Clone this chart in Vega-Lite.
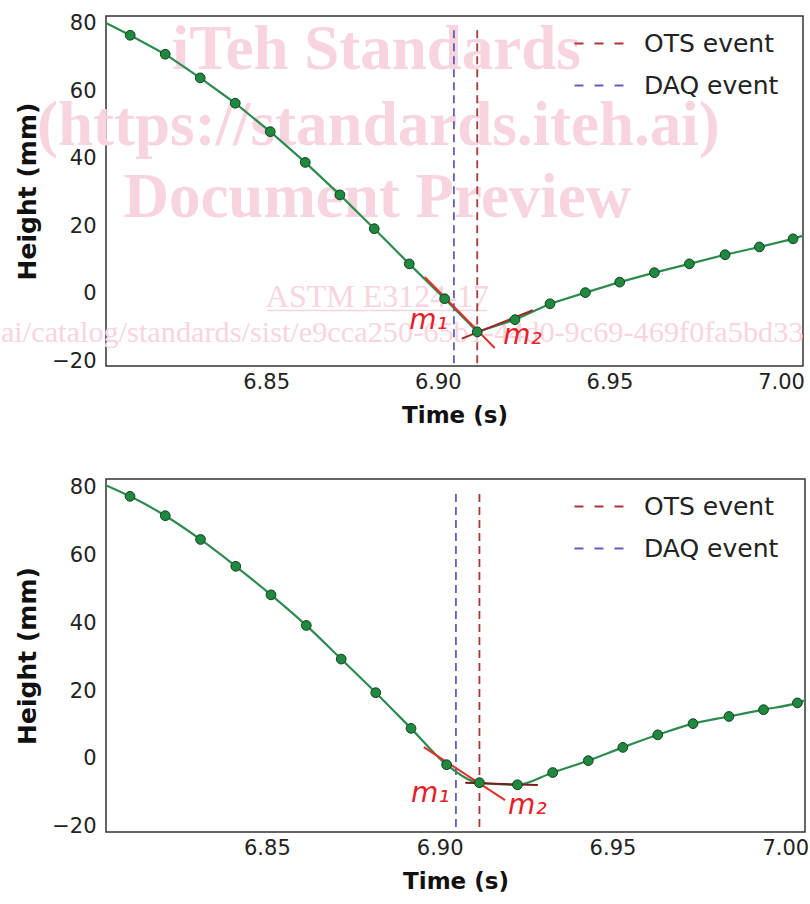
{
  "$schema": "https://vega.github.io/schema/vega-lite/v6.json",
  "padding": {"left": 0, "top": 11, "right": 0, "bottom": 0},
  "spacing": 47,
  "background": "white",
  "config": {
    "view": {"stroke": "#333333", "strokeWidth": 1.5},
    "axis": {"ticks": false, "domain": false, "grid": false, "labelFont": "DejaVu Sans", "labelFontSize": 21, "labelColor": "#222222", "titleFont": "DejaVu Sans", "titleFontWeight": "bold", "titleColor": "#111111"},
    "legend": {"orient": "none", "legendX": 467, "padding": 0, "title": null, "symbolType": "stroke", "symbolSize": 2500, "symbolStrokeWidth": 2.2, "symbolDash": [9, 11], "labelFont": "DejaVu Sans", "labelFontSize": 25, "labelColor": "#222222", "labelOffset": 18}
  },
  "resolve": {"scale": {"color": "independent"}, "legend": {"color": "independent"}},
  "datasets": {
    "topCurve": [
      {"t": 6.80335, "h": 80.1, "s": 0},
      {"t": 6.8104, "h": 76.5, "s": 1},
      {"t": 6.8206, "h": 70.9, "s": 1},
      {"t": 6.8308, "h": 63.9, "s": 1},
      {"t": 6.8410, "h": 56.4, "s": 1},
      {"t": 6.8512, "h": 48.0, "s": 1},
      {"t": 6.8614, "h": 38.9, "s": 1},
      {"t": 6.8715, "h": 29.3, "s": 1},
      {"t": 6.8815, "h": 19.3, "s": 1},
      {"t": 6.8917, "h": 8.9, "s": 1},
      {"t": 6.9020, "h": -1.4, "s": 1},
      {"t": 6.9115, "h": -11.2, "s": 1},
      {"t": 6.9225, "h": -7.6, "s": 1},
      {"t": 6.9327, "h": -2.9, "s": 1},
      {"t": 6.9430, "h": 0.4, "s": 1},
      {"t": 6.9530, "h": 3.5, "s": 1},
      {"t": 6.9631, "h": 6.3, "s": 1},
      {"t": 6.9733, "h": 8.9, "s": 1},
      {"t": 6.9837, "h": 11.6, "s": 1},
      {"t": 6.9937, "h": 13.9, "s": 1},
      {"t": 7.0035, "h": 16.3, "s": 1},
      {"t": 7.0064, "h": 17.3, "s": 0}
    ],
    "bottomCurve": [
      {"t": 6.80335, "h": 80.6, "s": 0},
      {"t": 6.8104, "h": 77.3, "s": 1},
      {"t": 6.8206, "h": 71.6, "s": 1},
      {"t": 6.8308, "h": 64.6, "s": 1},
      {"t": 6.8410, "h": 56.7, "s": 1},
      {"t": 6.8512, "h": 48.3, "s": 1},
      {"t": 6.8614, "h": 39.3, "s": 1},
      {"t": 6.8715, "h": 29.4, "s": 1},
      {"t": 6.8815, "h": 19.5, "s": 1},
      {"t": 6.8917, "h": 9.0, "s": 1},
      {"t": 6.9020, "h": -1.7, "s": 1},
      {"t": 6.9115, "h": -7.0, "s": 1},
      {"t": 6.9225, "h": -7.6, "s": 1},
      {"t": 6.9327, "h": -4.0, "s": 1},
      {"t": 6.9430, "h": -0.5, "s": 1},
      {"t": 6.9530, "h": 3.4, "s": 1},
      {"t": 6.9631, "h": 7.1, "s": 1},
      {"t": 6.9733, "h": 10.4, "s": 1},
      {"t": 6.9837, "h": 12.5, "s": 1},
      {"t": 6.9937, "h": 14.5, "s": 1},
      {"t": 7.0035, "h": 16.5, "s": 1},
      {"t": 7.0064, "h": 17.5, "s": 0}
    ],
    "events": [
      {"event": "OTS event", "t": 6.9115},
      {"event": "DAQ event", "t": 6.9047}
    ],
    "topTangents": [
      {"seg": "m1", "t": 6.8962, "h": 5.0},
      {"seg": "m1", "t": 6.9166, "h": -16.0},
      {"seg": "m2", "t": 6.9070, "h": -13.2},
      {"seg": "m2", "t": 6.9277, "h": -4.8}
    ],
    "bottomTangents": [
      {"seg": "m1", "t": 6.8954, "h": 3.5},
      {"seg": "m1", "t": 6.9189, "h": -12.1},
      {"seg": "m2", "t": 6.9074, "h": -7.0},
      {"seg": "m2", "t": 6.9284, "h": -7.7}
    ],
    "topLabels": [
      {"label": "m₁", "t": 6.8917, "h": -10.3},
      {"label": "m₂", "t": 6.9191, "h": -14.7}
    ],
    "bottomLabels": [
      {"label": "m₁", "t": 6.8917, "h": -12.6},
      {"label": "m₂", "t": 6.9198, "h": -16.2}
    ],
    "watermark": [
      {"line": 1, "label": "iTeh Standards", "t": 6.8821, "h": 66.4},
      {"line": 2, "label": "(https://standards.iteh.ai)", "t": 6.8827, "h": 44.2},
      {"line": 3, "label": "Document Preview", "t": 6.8824, "h": 22.7},
      {"line": 4, "label": "ASTM E3124-17", "t": 6.8824, "h": -3.8},
      {"line": 5, "label": "ai/catalog/standards/sist/e9cca250-65b1-44d0-9c69-469f0fa5bd33", "t": 6.77274, "h": -14.2}
    ],
    "underline": [
      {"t": 6.8503, "t2": 6.9144, "h": -4.9}
    ]
  },
  "vconcat": [
    {
      "width": 697,
      "height": 350,
      "encoding": {
        "x": {"field": "t", "type": "quantitative", "scale": {"domain": [6.80335, 7.0064], "nice": false, "zero": false}, "axis": {"title": "Time (s)", "values": [6.85, 6.9, 6.95, 7.0], "format": ".2f", "labelPadding": 5, "titlePadding": 12, "titleFontSize": 23}}
      },
      "layer": [
        {
          "data": {"name": "watermark"},
          "transform": [{"filter": "datum.line <= 3"}],
          "mark": {"type": "text", "font": "Liberation Serif", "fontWeight": "bold", "fontSize": 63, "color": "#f8d5de", "align": "center", "baseline": "alphabetic"},
          "encoding": {
            "y": {"field": "h", "type": "quantitative", "scale": {"domain": [-21.3, 82.2], "nice": false, "zero": false}, "axis": {"title": "Height (mm)", "values": [-20, 0, 20, 40, 60, 80], "labelPadding": 10, "titlePadding": 11, "titleFontSize": 25}},
            "text": {"field": "label"}
          }
        },
        {
          "data": {"name": "watermark"},
          "transform": [{"filter": "datum.line == 4"}],
          "mark": {"type": "text", "font": "Liberation Serif", "fontSize": 32, "color": "#f8d5de", "align": "center", "baseline": "alphabetic"},
          "encoding": {
            "y": {"field": "h", "type": "quantitative", "scale": {"domain": [-21.3, 82.2], "nice": false, "zero": false}, "axis": {"title": "Height (mm)", "values": [-20, 0, 20, 40, 60, 80], "labelPadding": 10, "titlePadding": 11, "titleFontSize": 25}},
            "text": {"field": "label"}
          }
        },
        {
          "data": {"name": "watermark"},
          "transform": [{"filter": "datum.line == 5"}],
          "mark": {"type": "text", "font": "Liberation Serif", "fontSize": 30.3, "color": "#f8d5de", "align": "left", "baseline": "alphabetic"},
          "encoding": {
            "y": {"field": "h", "type": "quantitative", "scale": {"domain": [-21.3, 82.2], "nice": false, "zero": false}, "axis": {"title": "Height (mm)", "values": [-20, 0, 20, 40, 60, 80], "labelPadding": 10, "titlePadding": 11, "titleFontSize": 25}},
            "text": {"field": "label"}
          }
        },
        {
          "data": {"name": "underline"},
          "mark": {"type": "rule", "color": "#f8d5de", "strokeWidth": 1.5},
          "encoding": {
            "y": {"field": "h", "type": "quantitative", "scale": {"domain": [-21.3, 82.2], "nice": false, "zero": false}, "axis": {"title": "Height (mm)", "values": [-20, 0, 20, 40, 60, 80], "labelPadding": 10, "titlePadding": 11, "titleFontSize": 25}},
            "x2": {"field": "t2"}
          }
        },
        {
          "data": {"name": "events"},
          "mark": {"type": "rule", "strokeDash": [8, 5], "strokeWidth": 1.8},
          "encoding": {
            "y": {"datum": 78, "type": "quantitative", "scale": {"domain": [-21.3, 82.2], "nice": false, "zero": false}, "axis": {"title": "Height (mm)", "values": [-20, 0, 20, 40, 60, 80], "labelPadding": 10, "titlePadding": 11, "titleFontSize": 25}},
            "y2": {"datum": -21.3},
            "color": {"field": "event", "type": "nominal", "scale": {"domain": ["OTS event", "DAQ event"], "range": ["#a83838", "#6060bc"]}, "legend": {"legendY": 1}}
          }
        },
        {
          "data": {"name": "topCurve"},
          "mark": {"type": "line", "color": "#2e8b50", "strokeWidth": 2.2, "clip": true},
          "encoding": {
            "y": {"field": "h", "type": "quantitative", "scale": {"domain": [-21.3, 82.2], "nice": false, "zero": false}, "axis": {"title": "Height (mm)", "values": [-20, 0, 20, 40, 60, 80], "labelPadding": 10, "titlePadding": 11, "titleFontSize": 25}}
          }
        },
        {
          "data": {"name": "topTangents"},
          "transform": [{"filter": "datum.seg == 'm1'"}],
          "mark": {"type": "line", "color": "#e0302a", "strokeWidth": 2},
          "encoding": {
            "y": {"field": "h", "type": "quantitative", "scale": {"domain": [-21.3, 82.2], "nice": false, "zero": false}, "axis": {"title": "Height (mm)", "values": [-20, 0, 20, 40, 60, 80], "labelPadding": 10, "titlePadding": 11, "titleFontSize": 25}}
          }
        },
        {
          "data": {"name": "topTangents"},
          "transform": [{"filter": "datum.seg == 'm2'"}],
          "mark": {"type": "line", "color": "#9a2a28", "strokeWidth": 2},
          "encoding": {
            "y": {"field": "h", "type": "quantitative", "scale": {"domain": [-21.3, 82.2], "nice": false, "zero": false}, "axis": {"title": "Height (mm)", "values": [-20, 0, 20, 40, 60, 80], "labelPadding": 10, "titlePadding": 11, "titleFontSize": 25}}
          }
        },
        {
          "data": {"name": "topCurve"},
          "transform": [{"filter": "datum.s == 1"}],
          "mark": {"type": "point", "filled": true, "fill": "#1f8a3f", "stroke": "#0f3f1f", "strokeWidth": 1, "size": 95, "opacity": 1},
          "encoding": {
            "y": {"field": "h", "type": "quantitative", "scale": {"domain": [-21.3, 82.2], "nice": false, "zero": false}, "axis": {"title": "Height (mm)", "values": [-20, 0, 20, 40, 60, 80], "labelPadding": 10, "titlePadding": 11, "titleFontSize": 25}}
          }
        },
        {
          "data": {"name": "topLabels"},
          "mark": {"type": "text", "font": "DejaVu Sans", "fontStyle": "italic", "fontSize": 28, "color": "#e5202a", "align": "left", "baseline": "alphabetic"},
          "encoding": {
            "y": {"field": "h", "type": "quantitative", "scale": {"domain": [-21.3, 82.2], "nice": false, "zero": false}, "axis": {"title": "Height (mm)", "values": [-20, 0, 20, 40, 60, 80], "labelPadding": 10, "titlePadding": 11, "titleFontSize": 25}},
            "text": {"field": "label"}
          }
        }
      ]
    },
    {
      "width": 699,
      "height": 353,
      "encoding": {
        "x": {"field": "t", "type": "quantitative", "scale": {"domain": [6.80345, 7.0057], "nice": false, "zero": false}, "axis": {"title": "Time (s)", "values": [6.85, 6.9, 6.95, 7.0], "format": ".2f", "labelPadding": 5, "titlePadding": 12, "titleFontSize": 23}}
      },
      "layer": [
        {
          "data": {"name": "events"},
          "mark": {"type": "rule", "strokeDash": [8, 5], "strokeWidth": 1.8},
          "encoding": {
            "y": {"datum": 78, "type": "quantitative", "scale": {"domain": [-21.5, 82.4], "nice": false, "zero": false}, "axis": {"title": "Height (mm)", "values": [-20, 0, 20, 40, 60, 80], "labelPadding": 10, "titlePadding": 11, "titleFontSize": 25}},
            "y2": {"datum": -21.5},
            "color": {"field": "event", "type": "nominal", "scale": {"domain": ["OTS event", "DAQ event"], "range": ["#a83838", "#6060bc"]}, "legend": {"legendY": 1}}
          }
        },
        {
          "data": {"name": "bottomCurve"},
          "mark": {"type": "line", "color": "#2e8b50", "strokeWidth": 2.2, "interpolate": "monotone", "clip": true},
          "encoding": {
            "y": {"field": "h", "type": "quantitative", "scale": {"domain": [-21.5, 82.4], "nice": false, "zero": false}, "axis": {"title": "Height (mm)", "values": [-20, 0, 20, 40, 60, 80], "labelPadding": 10, "titlePadding": 11, "titleFontSize": 25}}
          }
        },
        {
          "data": {"name": "bottomTangents"},
          "transform": [{"filter": "datum.seg == 'm1'"}],
          "mark": {"type": "line", "color": "#e0302a", "strokeWidth": 2},
          "encoding": {
            "y": {"field": "h", "type": "quantitative", "scale": {"domain": [-21.5, 82.4], "nice": false, "zero": false}, "axis": {"title": "Height (mm)", "values": [-20, 0, 20, 40, 60, 80], "labelPadding": 10, "titlePadding": 11, "titleFontSize": 25}}
          }
        },
        {
          "data": {"name": "bottomTangents"},
          "transform": [{"filter": "datum.seg == 'm2'"}],
          "mark": {"type": "line", "color": "#7a1c1c", "strokeWidth": 2},
          "encoding": {
            "y": {"field": "h", "type": "quantitative", "scale": {"domain": [-21.5, 82.4], "nice": false, "zero": false}, "axis": {"title": "Height (mm)", "values": [-20, 0, 20, 40, 60, 80], "labelPadding": 10, "titlePadding": 11, "titleFontSize": 25}}
          }
        },
        {
          "data": {"name": "bottomCurve"},
          "transform": [{"filter": "datum.s == 1"}],
          "mark": {"type": "point", "filled": true, "fill": "#1f8a3f", "stroke": "#0f3f1f", "strokeWidth": 1, "size": 95, "opacity": 1},
          "encoding": {
            "y": {"field": "h", "type": "quantitative", "scale": {"domain": [-21.5, 82.4], "nice": false, "zero": false}, "axis": {"title": "Height (mm)", "values": [-20, 0, 20, 40, 60, 80], "labelPadding": 10, "titlePadding": 11, "titleFontSize": 25}}
          }
        },
        {
          "data": {"name": "bottomLabels"},
          "mark": {"type": "text", "font": "DejaVu Sans", "fontStyle": "italic", "fontSize": 28, "color": "#e5202a", "align": "left", "baseline": "alphabetic"},
          "encoding": {
            "y": {"field": "h", "type": "quantitative", "scale": {"domain": [-21.5, 82.4], "nice": false, "zero": false}, "axis": {"title": "Height (mm)", "values": [-20, 0, 20, 40, 60, 80], "labelPadding": 10, "titlePadding": 11, "titleFontSize": 25}},
            "text": {"field": "label"}
          }
        }
      ]
    }
  ]
}
